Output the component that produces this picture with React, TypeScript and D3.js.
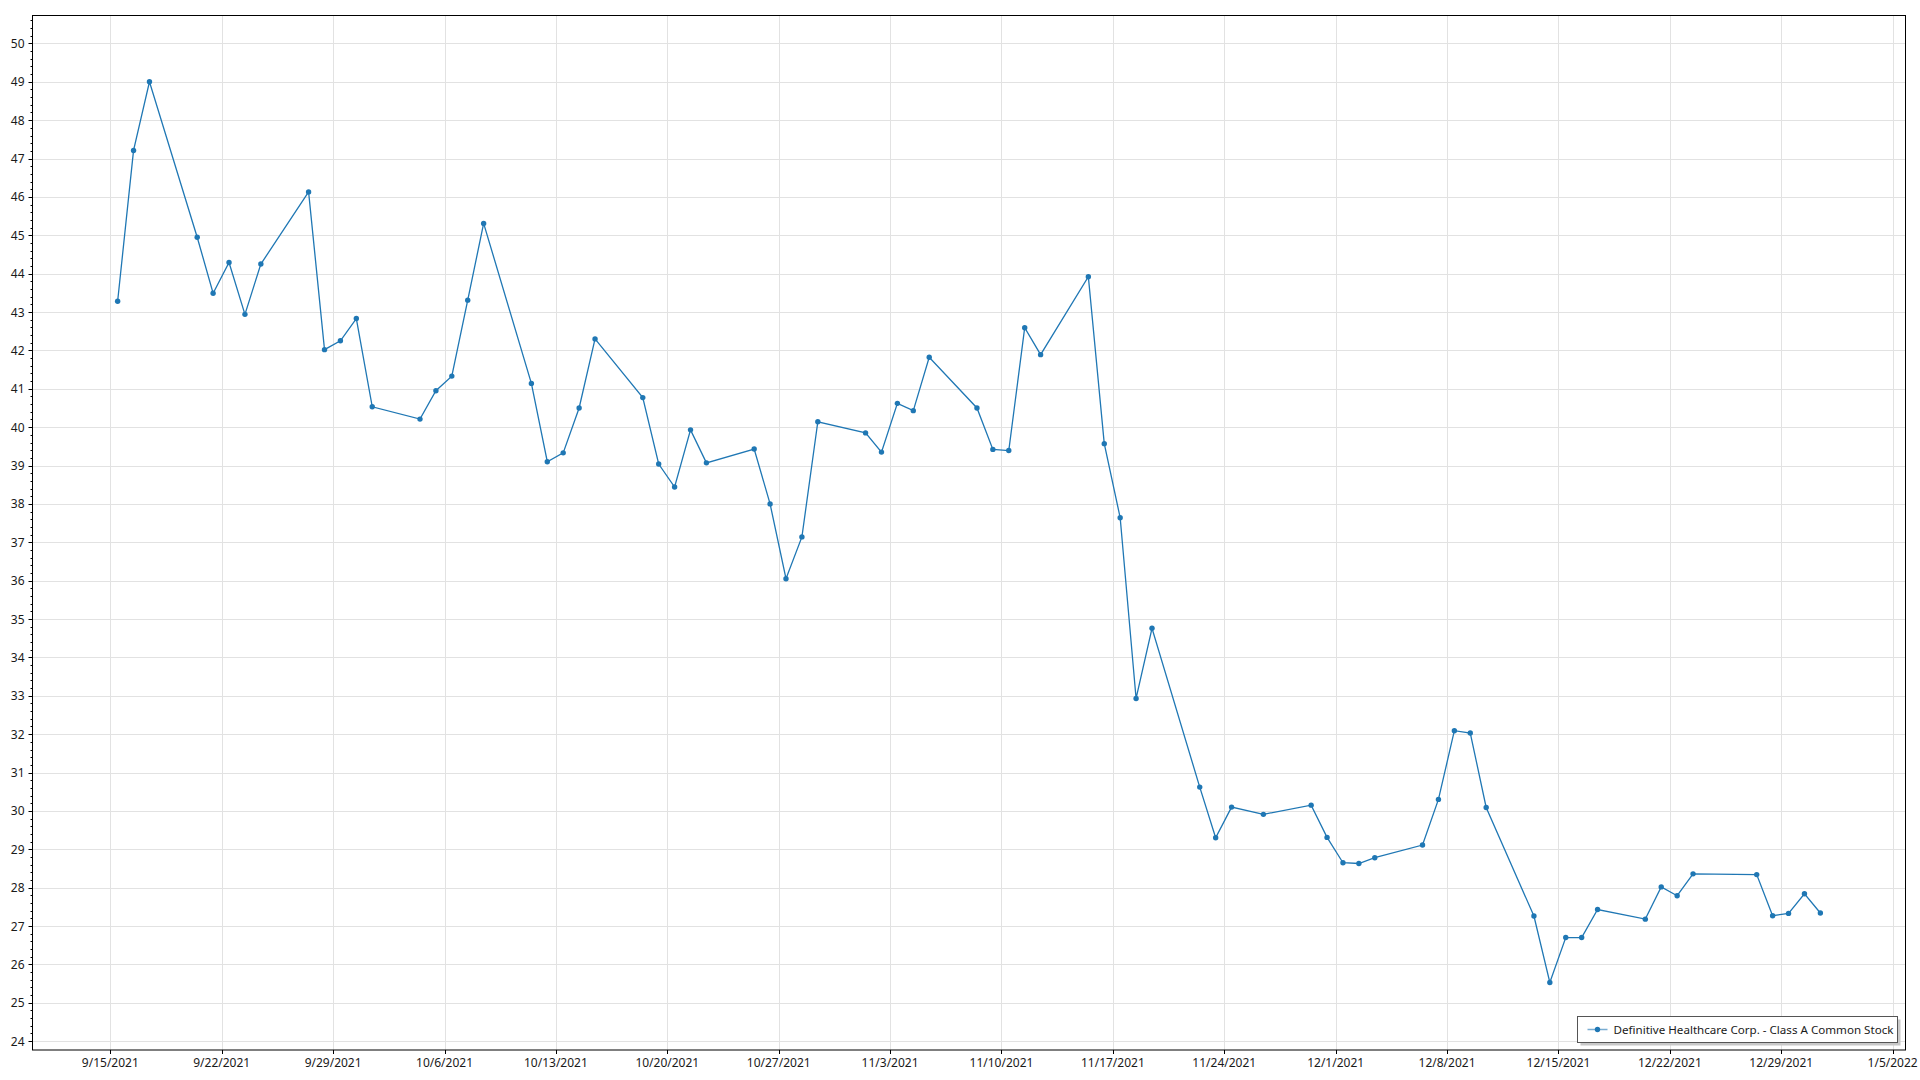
import React, { useEffect } from "react";
import * as d3 from "d3";

const dates: string[] = [
  "2021-09-15", "2021-09-16", "2021-09-17", "2021-09-20", "2021-09-21", "2021-09-22", "2021-09-23", "2021-09-24",
  "2021-09-27", "2021-09-28", "2021-09-29", "2021-09-30", "2021-10-01",
  "2021-10-04", "2021-10-05", "2021-10-06", "2021-10-07", "2021-10-08",
  "2021-10-11", "2021-10-12", "2021-10-13", "2021-10-14", "2021-10-15",
  "2021-10-18", "2021-10-19", "2021-10-20", "2021-10-21", "2021-10-22",
  "2021-10-25", "2021-10-26", "2021-10-27", "2021-10-28", "2021-10-29",
  "2021-11-01", "2021-11-02", "2021-11-03", "2021-11-04", "2021-11-05",
  "2021-11-08", "2021-11-09", "2021-11-10", "2021-11-11", "2021-11-12",
  "2021-11-15", "2021-11-16", "2021-11-17", "2021-11-18", "2021-11-19",
  "2021-11-22", "2021-11-23", "2021-11-24", "2021-11-26",
  "2021-11-29", "2021-11-30", "2021-12-01", "2021-12-02", "2021-12-03",
  "2021-12-06", "2021-12-07", "2021-12-08", "2021-12-09", "2021-12-10",
  "2021-12-13", "2021-12-14", "2021-12-15", "2021-12-16", "2021-12-17",
  "2021-12-20", "2021-12-21", "2021-12-22", "2021-12-23",
  "2021-12-27", "2021-12-28", "2021-12-29", "2021-12-30", "2021-12-31",
];

const prices: number[] = [
  43.28, 47.21, 49.0, 44.95, 43.49, 44.29, 42.94, 44.25,
  46.13, 42.02, 42.25, 42.83, 40.53,
  40.21, 40.95, 41.33, 43.31, 45.31,
  41.14, 39.1, 39.33, 40.5, 42.3,
  40.77, 39.04, 38.44, 39.93, 39.07,
  39.43, 38.0, 36.05, 37.14, 40.14,
  39.85, 39.35, 40.62, 40.43, 41.82,
  40.5, 39.42, 39.39, 42.59, 41.89,
  43.92, 39.57, 37.64, 32.93, 34.76,
  30.62, 29.3, 30.1, 29.91,
  30.15, 29.31, 28.65, 28.63, 28.78,
  29.11, 30.3, 32.09, 32.03, 30.09,
  27.26, 25.53, 26.7, 26.7, 27.43,
  27.18, 28.02, 27.79, 28.36,
  28.34, 27.27, 27.33, 27.84, 27.34,
];

const seriesName = "Definitive Healthcare Corp. - Class A Common Stock";
const yTickValues: number[] = d3.range(24, 51, 1);
const xTickStart = "2021-09-15";
const xTickEnd = "2022-01-05";

const W = 1920;
const H = 1080;
const left = 32.5;
const right = 1905.5;
const top = 15;
const bottom = 1050;
const FONT = "'Noto Sans', 'Open Sans', sans-serif";
const COLOR = "#1f77b4";

function parseUTC(s: string, hours = 0): Date {
  const [y, m, d] = s.split("-").map(Number);
  return new Date(Date.UTC(y, m - 1, d, hours));
}

export default function App() {
  useEffect(() => {
    document.body.style.margin = "0";
  }, []);

  const pts = dates.map((d, i) => ({ t: parseUTC(d, 11), v: prices[i] }));
  const t0 = pts[0].t.getTime();
  const t1 = pts[pts.length - 1].t.getTime();
  const pad = (t1 - t0) * 0.05;
  const x = d3.scaleUtc().domain([new Date(t0 - pad), new Date(t1 + pad)]).range([left, right]);
  const y = d3.scaleLinear().domain([23.77, 50.74]).range([bottom, top]);

  const xTicks = d3.utcDay.range(parseUTC(xTickStart), d3.utcDay.offset(parseUTC(xTickEnd), 1), 7);
  const fmt = (d: Date) => `${d.getUTCMonth() + 1}/${d.getUTCDate()}/${d.getUTCFullYear()}`;
  const minorY = d3.range(24, 50.8, 0.2).filter((v) => Math.abs(v - Math.round(v)) > 0.01);

  const line = d3
    .line<{ t: Date; v: number }>()
    .x((d) => x(d.t))
    .y((d) => y(d.v));

  const lgX = 1577.5;
  const lgY = 1016.5;
  const lgW = 320;
  const lgH = 26;

  return (
    <svg width={W} height={H} style={{ display: "block" }} fontFamily={FONT}>
      <rect x={0} y={0} width={W} height={H} fill="#fff" />
      <g stroke="#e2e2e2" strokeWidth={1}>
        {yTickValues.map((v) => (
          <line key={"gy" + v} x1={left} x2={right} y1={Math.round(y(v)) + 0.5} y2={Math.round(y(v)) + 0.5} />
        ))}
        {xTicks.map((d, i) => (
          <line key={"gx" + i} x1={Math.round(x(d)) + 0.5} x2={Math.round(x(d)) + 0.5} y1={top} y2={bottom} />
        ))}
      </g>
      <g stroke="#000" strokeWidth={1}>
        {yTickValues.map((v) => (
          <line key={"ty" + v} x1={left - 4} x2={left} y1={Math.round(y(v)) + 0.5} y2={Math.round(y(v)) + 0.5} />
        ))}
        {minorY.map((v, i) => (
          <line key={"my" + i} x1={left - 2} x2={left} y1={Math.round(y(v)) + 0.5} y2={Math.round(y(v)) + 0.5} />
        ))}
        {xTicks.map((d, i) => (
          <line key={"tx" + i} x1={Math.round(x(d)) + 0.5} x2={Math.round(x(d)) + 0.5} y1={bottom} y2={bottom + 4} />
        ))}
      </g>
      <g fontSize={12} fill="#1a1a1a">
        {yTickValues.map((v) => (
          <text key={"ly" + v} x={left - 8} y={y(v)} textAnchor="end" dominantBaseline="central">
            {v}
          </text>
        ))}
        {xTicks.map((d, i) => (
          <text key={"lx" + i} x={x(d)} y={bottom + 17} textAnchor="middle">
            {fmt(d)}
          </text>
        ))}
      </g>
      <path d={line(pts) || ""} fill="none" stroke={COLOR} strokeWidth={1.3} />
      <g fill={COLOR}>
        {pts.map((p, i) => (
          <circle key={"p" + i} cx={x(p.t)} cy={y(p.v)} r={2.7} />
        ))}
      </g>
      <rect x={left} y={top + 0.5} width={right - left} height={bottom - top - 0.5} fill="none" stroke="#000" strokeWidth={1} />
      <rect x={lgX + 3} y={lgY + 3} width={lgW} height={lgH} fill="#c8c8c8" />
      <rect x={lgX} y={lgY} width={lgW} height={lgH} fill="#fff" stroke="#555" strokeWidth={1} />
      <line x1={lgX + 10} x2={lgX + 30} y1={lgY + 13} y2={lgY + 13} stroke={COLOR} strokeOpacity={0.6} strokeWidth={1.5} />
      <circle cx={lgX + 20} cy={lgY + 13} r={2.7} fill={COLOR} />
      <text x={lgX + 36} y={lgY + 13} dominantBaseline="central" fontSize={11.6} fill="#1a1a1a">
        {seriesName}
      </text>
    </svg>
  );
}
